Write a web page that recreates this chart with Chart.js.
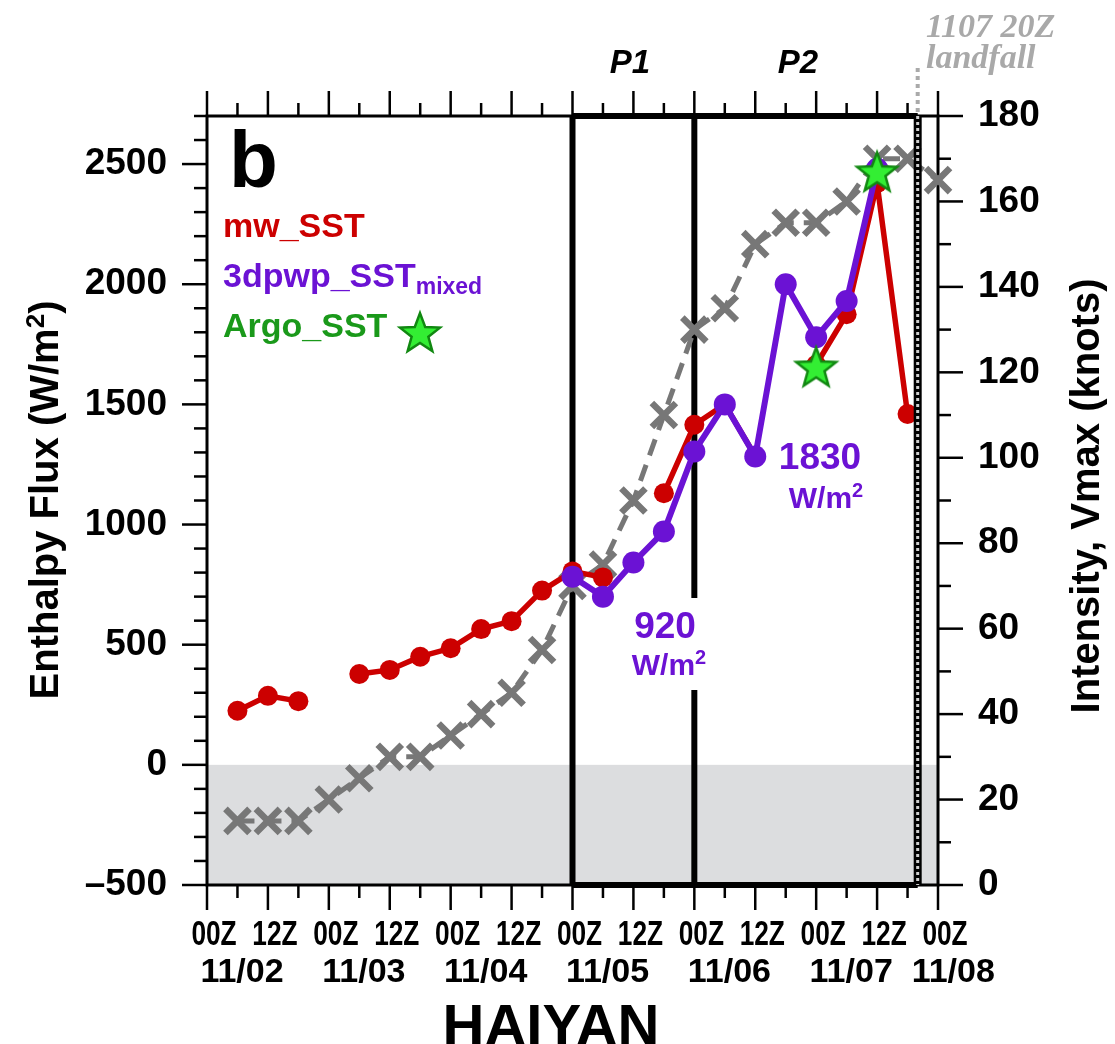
<!DOCTYPE html>
<html>
<head>
<meta charset="utf-8">
<script src="https://cdn.jsdelivr.net/npm/chart.js@4.4.0/dist/chart.umd.min.js"></script>
<style>
  body { margin: 0; background: #fff; }
</style>
</head>
<body>
<canvas id="fluxChart" width="1115" height="1044"></canvas>
<script>
// x = 6-hourly step, 0 = 11/02 00Z ... 24 = 11/08 00Z
const hourLabels = ["00Z","12Z","00Z","12Z","00Z","12Z","00Z","12Z","00Z","12Z","00Z","12Z","00Z"];
const dateLabels = ["11/02","11/03","11/04","11/05","11/06","11/07","11/08"];
const fluxTicks = [-500, 0, 500, 1000, 1500, 2000, 2500];
const vmaxTicks = [0, 20, 40, 60, 80, 100, 120, 140, 160, 180];

// enthalpy flux (W/m2)
const mwSST  = [null, 225, 287, 265, null, 378, 395, 450, 485, 565, 598, 725, 805, 780, null, 1130, 1415, 1500, 1285, null, 1665, 1875, 2420, 1460, null];
const pwpSST = [null, null, null, null, null, null, null, null, null, null, null, null, 783, 700, 842, 971, 1304, 1500, 1283, 2000, 1779, 1930, 2480, null, null];
const argoSST = [null, null, null, null, null, null, null, null, null, null, null, null, null, null, null, null, null, null, null, null, 1658, null, 2470, null, null];
// intensity (knots)
const vmax = [null, 15, 15, 15, 20, 25, 30, 30, 35, 40, 45, 55, 70, 75, 90, 110, 130, 135, 150, 155, 155, 160, 170, 170, 165];

const p1Start = 12, p2Start = 16, landfall = 23 + 1/3;

const RED = "#cc0000";
const PURPLE = "#6b12d4";
const GREEN_TXT = "#1a991a";
const GRAY = "#777777";
const FONT = "'Liberation Sans', Arial, sans-serif";

function toPoints(arr) {
  return arr.map((v, i) => ({x: i, y: v}));
}

function makeStar(r) {
  const c = document.createElement("canvas");
  const s = Math.ceil(r * 2 + 8);
  c.width = s; c.height = s;
  const g = c.getContext("2d");
  g.translate(s / 2, s / 2 + r * 0.1);
  g.beginPath();
  for (let k = 0; k < 10; k++) {
    const rad = k % 2 === 0 ? r : r * 0.42;
    const a = -Math.PI / 2 + k * Math.PI / 5;
    g.lineTo(rad * Math.cos(a), rad * Math.sin(a));
  }
  g.closePath();
  g.fillStyle = "#33ee33";
  g.fill();
  g.lineWidth = 2.5;
  g.strokeStyle = "#118811";
  g.stroke();
  return c;
}
const starImg = makeStar(21);

function drawRuns(ctx, runs, x, y, align) {
  let total = 0;
  runs.forEach(r => { ctx.font = r.font; r.w = ctx.measureText(r.text).width; total += r.w; });
  let cx = align === "center" ? x - total / 2 : (align === "right" ? x - total : x);
  ctx.textAlign = "left";
  runs.forEach(r => { ctx.font = r.font; ctx.fillText(r.text, cx, y + (r.dy || 0)); cx += r.w; });
}

function line(ctx, x1, y1, x2, y2) {
  ctx.beginPath();
  ctx.moveTo(x1, y1);
  ctx.lineTo(x2, y2);
  ctx.stroke();
}

const decorPlugin = {
  id: "decor",
  beforeDatasetsDraw(chart) {
    const {ctx, chartArea: a, scales: {x, y, y1}} = chart;
    ctx.save();
    // shading below zero flux
    const y0 = y.getPixelForValue(0);
    ctx.fillStyle = "#dcdddf";
    ctx.fillRect(a.left, y0, a.right - a.left, a.bottom - y0);

    // frame
    ctx.strokeStyle = "#000";
    ctx.lineWidth = 3;
    ctx.strokeRect(a.left, a.top, a.right - a.left, a.bottom - a.top);

    // tick marks
    ctx.lineWidth = 2.5;
    for (let v = -500; v <= 2700; v += 100) {
      const py = y.getPixelForValue(v);
      line(ctx, a.left, py, a.left - (v % 500 === 0 ? 25 : 13), py);
    }
    for (let v = 0; v <= 180; v += 10) {
      const py = y1.getPixelForValue(v);
      line(ctx, a.right, py, a.right + (v % 20 === 0 ? 25 : 13), py);
    }
    for (let s = 0; s <= 24; s++) {
      const px = x.getPixelForValue(s);
      const len = s % 2 === 0 ? 25 : 13;
      line(ctx, px, a.bottom, px, a.bottom + len);
      line(ctx, px, a.top, px, a.top - len);
    }

    // P1 / P2 boxes
    const xp1 = x.getPixelForValue(p1Start);
    const xp2 = x.getPixelForValue(p2Start);
    const xl = x.getPixelForValue(landfall);
    ctx.lineWidth = 6;
    line(ctx, xp1, a.top, xl, a.top);
    line(ctx, xp1, a.bottom, xl, a.bottom);
    line(ctx, xp1, a.top, xp1, a.bottom);
    line(ctx, xp2, a.top, xp2, a.bottom);

    // white box behind the 920 label
    ctx.fillStyle = "#fff";
    ctx.fillRect(xp2 - 70, 598, 88, 92);
    ctx.restore();
  },
  afterDatasetsDraw(chart) {
    const {ctx, chartArea: a, scales: {x}} = chart;
    const xl = x.getPixelForValue(landfall);
    ctx.save();
    ctx.strokeStyle = "#000";
    ctx.lineWidth = 8;
    line(ctx, xl, a.top, xl, a.bottom);
    ctx.strokeStyle = "#d0d0d0";
    ctx.lineWidth = 3;
    ctx.setLineDash([3, 3]);
    line(ctx, xl, a.top, xl, a.bottom);
    ctx.strokeStyle = "#aaaaaa";
    ctx.lineWidth = 4;
    ctx.setLineDash([4, 4]);
    line(ctx, xl, 68, xl, a.top);
    ctx.restore();
  },
  afterDraw(chart) {
    const {ctx, chartArea: a, scales: {x}} = chart;
    ctx.save();
    ctx.fillStyle = "#000";
    ctx.textBaseline = "alphabetic";

    // x tick labels (condensed)
    ctx.font = "bold 35px " + FONT;
    ctx.textAlign = "center";
    hourLabels.forEach((t, k) => {
      ctx.save();
      ctx.translate(x.getPixelForValue(k * 2) + 7, 945);
      ctx.scale(0.75, 1);
      ctx.fillText(t, 0, 0);
      ctx.restore();
    });
    ctx.font = "bold 34px " + FONT;
    dateLabels.forEach((t, k) => {
      const s = k < dateLabels.length - 1 ? k * 4 + 1.15 : 24.5;
      ctx.fillText(t, x.getPixelForValue(s), 982);
    });

    // axis titles
    ctx.font = "bold 58px " + FONT;
    ctx.fillText("HAIYAN", 551, 1045);

    ctx.save();
    ctx.translate(44, 500);
    ctx.rotate(-Math.PI / 2);
    drawRuns(ctx, [
      {text: "Enthalpy Flux (W/m", font: "bold 40px " + FONT},
      {text: "2", font: "bold 26px " + FONT, dy: -14},
      {text: ")", font: "bold 40px " + FONT}
    ], 0, 14, "center");
    ctx.restore();

    ctx.save();
    ctx.translate(1085, 496);
    ctx.rotate(-Math.PI / 2);
    ctx.font = "bold 40px " + FONT;
    ctx.textAlign = "center";
    ctx.fillText("Intensity, Vmax (knots)", 0, 14);
    ctx.restore();

    // panel letter and legend
    ctx.textAlign = "left";
    ctx.font = "bold 80px " + FONT;
    ctx.fillText("b", 229, 187);
    ctx.fillStyle = RED;
    ctx.font = "bold 34px " + FONT;
    ctx.fillText("mw_SST", 223, 237);
    ctx.fillStyle = PURPLE;
    drawRuns(ctx, [
      {text: "3dpwp_SST", font: "bold 34px " + FONT},
      {text: "mixed", font: "bold 23px " + FONT, dy: 7}
    ], 223, 287, "left");
    ctx.fillStyle = GREEN_TXT;
    ctx.font = "bold 34px " + FONT;
    ctx.fillText("Argo_SST", 223, 337);
    ctx.drawImage(starImg, 420 - starImg.width / 2, 332 - starImg.height / 2);

    // period labels
    ctx.fillStyle = "#000";
    ctx.textAlign = "center";
    ctx.font = "italic bold 33px " + FONT;
    ctx.fillText("P1", 630, 73);
    ctx.fillText("P2", 798, 73);

    // landfall label
    ctx.fillStyle = "#a9a9a9";
    ctx.textAlign = "left";
    ctx.font = "italic bold 34px 'Liberation Serif', serif";
    ctx.fillText("1107 20Z", 926, 37);
    ctx.fillText("landfall", 926, 68);

    // flux annotations
    ctx.fillStyle = PURPLE;
    ctx.textAlign = "center";
    ctx.font = "bold 37px " + FONT;
    ctx.fillText("920", 665, 638);
    ctx.fillText("1830", 820, 469);
    drawRuns(ctx, [
      {text: "W/m", font: "bold 30px " + FONT},
      {text: "2", font: "bold 20px " + FONT, dy: -11}
    ], 669, 675, "center");
    drawRuns(ctx, [
      {text: "W/m", font: "bold 30px " + FONT},
      {text: "2", font: "bold 20px " + FONT, dy: -11}
    ], 826, 508, "center");
    ctx.restore();
  }
};

const tickFont = {family: "Liberation Sans", size: 37, weight: "bold"};

new Chart(document.getElementById("fluxChart").getContext("2d"), {
  type: "line",
  data: {
    datasets: [
      {
        label: "Argo_SST",
        data: toPoints(argoSST),
        yAxisID: "y",
        showLine: false,
        pointStyle: starImg,
        pointRadius: 20,
        order: 0
      },
      {
        label: "3dpwp_SST_mixed",
        data: toPoints(pwpSST),
        yAxisID: "y",
        borderColor: PURPLE,
        backgroundColor: PURPLE,
        borderWidth: 6,
        pointRadius: 11,
        pointBorderWidth: 0,
        pointBackgroundColor: PURPLE,
        order: 1
      },
      {
        label: "mw_SST",
        data: toPoints(mwSST),
        yAxisID: "y",
        borderColor: RED,
        backgroundColor: RED,
        borderWidth: 5.5,
        pointRadius: 10,
        pointBorderWidth: 0,
        pointBackgroundColor: RED,
        order: 2
      },
      {
        label: "Vmax",
        data: toPoints(vmax),
        yAxisID: "y1",
        borderColor: GRAY,
        borderWidth: 5,
        borderDash: [17, 10],
        pointStyle: "crossRot",
        pointRadius: 17,
        pointBorderWidth: 6.5,
        pointBorderColor: GRAY,
        clip: 30,
        order: 3
      }
    ]
  },
  options: {
    responsive: false,
    animation: false,
    devicePixelRatio: 1,
    layout: {padding: {top: 116, bottom: 159, left: 0, right: 0}},
    plugins: {
      legend: {display: false},
      tooltip: {enabled: false}
    },
    scales: {
      x: {type: "linear", min: 0, max: 24, display: false},
      y: {
        position: "left",
        min: -500,
        max: 2700,
        afterFit: s => { s.width = 207; },
        afterBuildTicks: s => { s.ticks = fluxTicks.map(v => ({value: v})); },
        grid: {display: false, drawTicks: false},
        border: {display: false},
        ticks: {
          padding: 40,
          color: "#000",
          font: tickFont,
          callback: v => v < 0 ? "\u2013" + Math.abs(v) : String(v)
        }
      },
      y1: {
        position: "right",
        min: 0,
        max: 180,
        afterFit: s => { s.width = 177; },
        afterBuildTicks: s => { s.ticks = vmaxTicks.map(v => ({value: v})); },
        grid: {display: false, drawTicks: false},
        border: {display: false},
        ticks: {padding: 40, color: "#000", font: tickFont}
      }
    }
  },
  plugins: [decorPlugin]
});
</script>
</body>
</html>
